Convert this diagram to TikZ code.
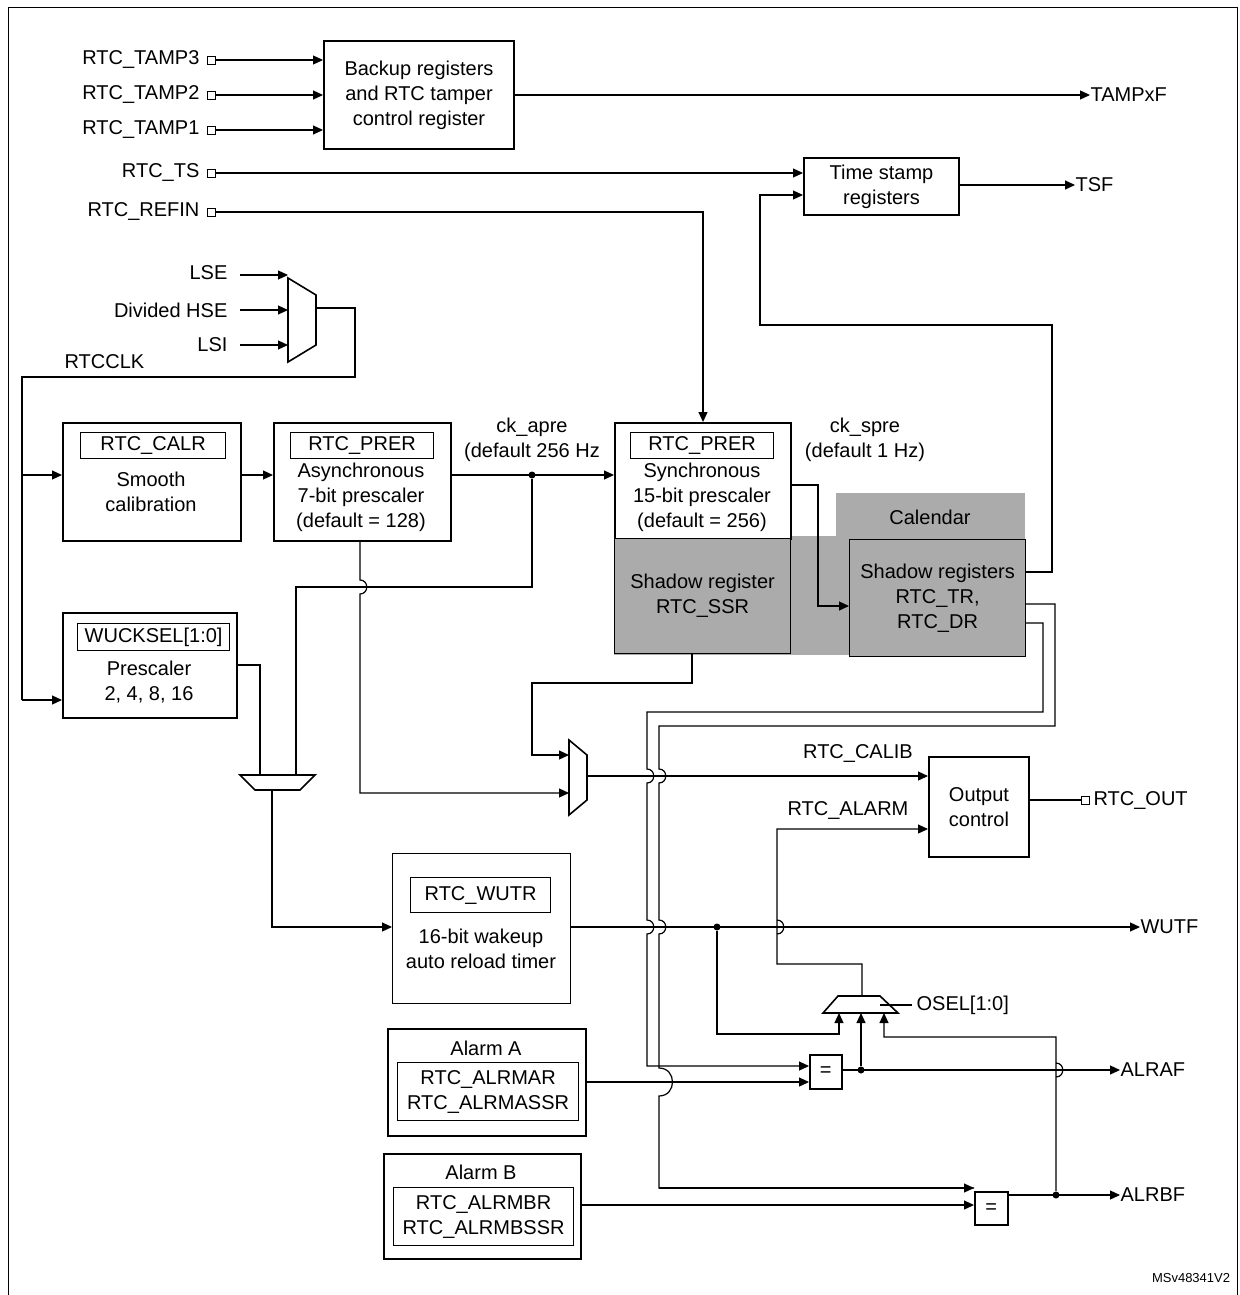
\documentclass[tikz,border=0pt]{standalone}
\usepackage{fontspec}
\setmainfont{Liberation Sans}
\usetikzlibrary{arrows.meta}
\newcommand{\hv}[2]{-- (#1,#2-7) .. controls (#1+9,#2-7) and (#1+9,#2+7) .. (#1,#2+7)}
\begin{document}
\begin{tikzpicture}[x=1pt,y=-1pt,line width=1.2pt,
  font=\fontsize{20}{25}\selectfont,
  box/.style={draw,line width=2pt,anchor=north west,inner sep=0pt,align=center},
  ibox/.style={draw,line width=1.2pt,anchor=north west,inner sep=0pt,align=center},
  term/.style={draw,fill=white,minimum size=8pt,inner sep=0pt,line width=0.9pt},
  arr/.style={-{Triangle[length=10pt,width=9pt]}},
  dot/.style={circle,fill,inner sep=0pt,minimum size=7pt},
  lab/.style={anchor=east,inner sep=0pt}]
\useasboundingbox (0,0) rectangle (1239,1295);
\draw[line width=1pt] (8,1295) -- (8,8) -- (1237,8) -- (1237,1295);
% grey
\fill[black!33] (614,536) rectangle (1025,655);
\fill[black!33] (836,493) rectangle (1025,540);
\node at (930,517) {Calendar};
% tamper
\node[box,minimum width=190pt,minimum height=108pt] (bk) at (323,40) {Backup registers\\and RTC tamper\\control register};
\foreach \n/\y in {3/60,2/95,1/130}{
  \node[lab] (t\n) at (200,\y) {RTC\_TAMP\n};
  \node[term] (s\n) at (211,\y) {};
  \draw[arr] (s\n.east) -- (323,\y);}
\node[anchor=west,inner sep=0pt] (tampf) at (1090,95) {TAMPxF};
\draw[arr] (bk.east |- 0,95) -- (tampf.west);
% time stamp
\node[box,minimum width=155pt,minimum height=57pt] (ts) at (803,157) {Time stamp\\registers};
\node[lab] at (200,173) {RTC\_TS};
\node[term] (sts) at (211,173) {};
\draw[arr] (sts.east) -- (803,173);
\node[anchor=west,inner sep=0pt] (tsf) at (1075,185) {TSF};
\draw[arr] (958,185) -- (tsf.west);
\node[lab] at (200,212) {RTC\_REFIN};
\node[term] (sref) at (211,212) {};
% clock mux
\draw[line width=1.6pt] (288,278) -- (316,295) -- (316,345) -- (288,362) -- cycle;
\node[lab] (lse) at (228,273) {LSE};
\node[lab] (hse) at (228,310) {Divided HSE};
\node[lab] (lsi) at (228,345) {LSI};
\draw[arr] (240,275) -- (288,275);
\draw[arr] (240,310) -- (288,310);
\draw[arr] (240,345) -- (288,345);
\node[anchor=west,inner sep=0pt] at (64,362) {RTCCLK};
% boxes row
\node[box,minimum width=178pt,minimum height=118pt] (sm) at (62,422) {};
\node[ibox,minimum width=145pt,minimum height=26pt] (calr) at (80,432) {RTC\_CALR};
\node[align=center] at (151,492) {Smooth\\calibration};
\node[box,minimum width=177pt,minimum height=118pt] (ap) at (273,422) {};
\node[ibox,minimum width=143pt,minimum height=26pt] at (290,432) {RTC\_PRER};
\node[align=center] at (361,497) {Asynchronous\\7-bit prescaler\\(default = 128)};
\node[box,minimum width=176pt,minimum height=116pt,fill=white] (sp) at (614,422) {};
\node[ibox,minimum width=143pt,minimum height=26pt] at (630,432) {RTC\_PRER};
\node[align=center] at (702,497) {Synchronous\\15-bit prescaler\\(default = 256)};
\node[align=center] at (532,440) {ck\_apre\\(default 256 Hz};
\node[align=center] at (865,440) {ck\_spre\\(default 1 Hz)};
\node[ibox,minimum width=176pt,minimum height=115pt,fill=black!33] (ssr) at (614,538) {Shadow register\\RTC\_SSR};
\node[ibox,minimum width=176pt,minimum height=117pt,fill=black!33] (shr) at (849,539) {Shadow registers\\RTC\_TR,\\RTC\_DR};
\node[box,minimum width=174pt,minimum height=105pt] (wk) at (62,612) {};
\node[ibox,minimum width=152pt,minimum height=27pt] at (77,623) {WUCKSEL[1:0]};
\node[align=center] at (149,682) {Prescaler\\2, 4, 8, 16};
% RTCCLK routing
\draw (316,308) -- (355,308) -- (355,377) -- (22,377) -- (22,700);
\draw[arr] (22,475) -- (62,475);
\draw[arr] (22,700) -- (62,700);
\draw[arr] (240,475) -- (273,475);
\node[dot] (d1) at (532,475) {};
\draw[arr] (450,475) -- (614,475);
\draw[arr] (sref.east) -- (703,212) -- (703,422);
\draw[arr] (790,485) -- (818,485) -- (818,606) -- (849,606);
\draw[arr] (1025,572) -- (1052,572) -- (1052,325) -- (760,325) -- (760,195) -- (803,195);
% bottom mux
\draw[line width=1.6pt] (240,775) -- (315,775) -- (300,790) -- (255,790) -- cycle;
\draw (236,665) -- (260,665) -- (260,775);
\draw (d1) -- (532,587) -- (296,587) -- (296,775);
\node[box,minimum width=178pt,minimum height=150pt,line width=0.8pt] (wt) at (392,853) {};
\node[ibox,minimum width=140pt,minimum height=35pt] at (410,877) {RTC\_WUTR};
\node[align=center] at (481,949) {16-bit wakeup\\auto reload timer};
\draw[arr] (272,790) -- (272,927) -- (392,927);
% mux1
\draw[line width=1.6pt] (569,740) -- (587,755) -- (587,800) -- (569,815) -- cycle;
\draw[arr] (692,653) -- (692,683) -- (532,683) -- (532,755) -- (569,755);
\draw[arr] (360,540) \hv{360}{587} -- (360,793) -- (569,793);
% output control
\node[box,minimum width=100pt,minimum height=100pt] (oc) at (928,756) {Output\\control};
\draw[arr] (587,776) -- (928,776);
\node[anchor=south] at (858,766) {RTC\_CALIB};
\node[term] (sout) at (1085,800) {};
\draw (1028,800) -- (sout.west);
\node[anchor=west,inner sep=0pt] at (1093,800) {RTC\_OUT};
% WUTF
\node[anchor=west,inner sep=0pt] (wutf) at (1140,927) {WUTF};
\draw[arr] (570,927) -- (wutf.west);
\node[dot] (d2) at (717,927) {};
% OSEL mux
\draw[line width=1.6pt] (838,996) -- (880,996) -- (898,1013) -- (823,1013) -- cycle;
\draw (880,1005) -- (912,1005);
\node[anchor=west,inner sep=0pt] at (916,1005) {OSEL[1:0]};
\draw[arr] (862,996) -- (862,964) -- (777,964) \hv{777}{927} -- (777,829) -- (928,829);
\node[anchor=south] at (848,823) {RTC\_ALARM};
\draw[arr] (d2) -- (717,1034) -- (839,1034) -- (839,1013);
% alarms
\node[box,minimum width=198pt,minimum height=107pt] (aa) at (387,1028) {};
\node at (486,1048) {Alarm A};
\node[ibox,minimum width=181pt,minimum height=58pt] at (397,1062) {RTC\_ALRMAR\\RTC\_ALRMASSR};
\node[box,minimum width=197pt,minimum height=105pt] (ab) at (383,1153) {};
\node at (481,1172) {Alarm B};
\node[ibox,minimum width=180pt,minimum height=58pt] at (393,1187) {RTC\_ALRMBR\\RTC\_ALRMBSSR};
\node[box,minimum width=32pt,minimum height=34pt,line width=1.6pt] (ea) at (809,1054) {=};
\node[box,minimum width=33pt,minimum height=33pt,line width=1.6pt] (eb) at (974,1191) {=};
\draw (1025,604) -- (1055,604) -- (1055,726) -- (659,726) \hv{659}{776} \hv{659}{927}
  -- (659,1068) .. controls (677,1068) and (677,1096) .. (659,1096) -- (659,1188) -- (974,1188);
\draw[arr] (1025,623) -- (1043,623) -- (1043,712) -- (647,712) \hv{647}{776} \hv{647}{927} -- (647,1066) -- (809,1066);
\draw[arr] (659,1188) -- (974,1188);
\draw[arr] (585,1082) -- (809,1082);
\draw[arr] (580,1205) -- (974,1205);
\node[anchor=west,inner sep=0pt] (alraf) at (1120,1070) {ALRAF};
\node[anchor=west,inner sep=0pt] (alrbf) at (1120,1195) {ALRBF};
\draw[arr] (841,1070) -- (alraf.west);
\draw[arr] (1007,1195) -- (alrbf.west);
\node[dot] (d3) at (861,1070) {};
\node[dot] (d4) at (1056,1195) {};
\draw[arr] (d3) -- (861,1013);
\draw[arr] (d4) \hv{1056}{1070} -- (1056,1037) -- (884,1037) -- (884,1013);
\node[anchor=east,font=\fontsize{13}{15}\selectfont] at (1234,1278) {MSv48341V2};
\end{tikzpicture}
\end{document}
